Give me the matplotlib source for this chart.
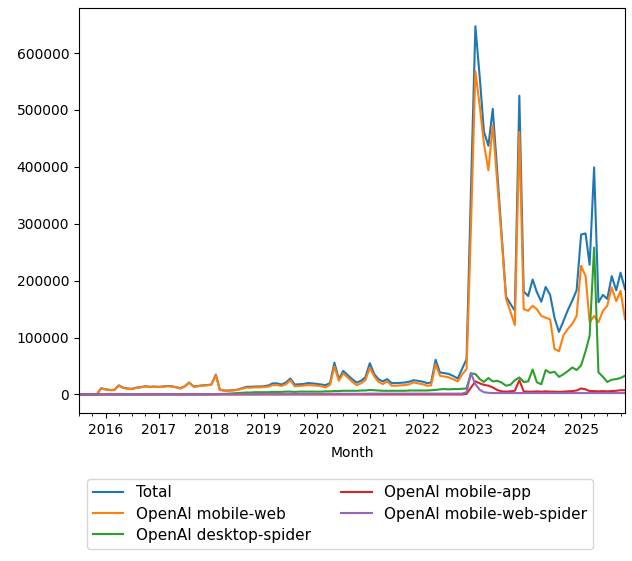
import pandas as pd
import matplotlib
matplotlib.use("Agg")
import matplotlib.pyplot as plt
import matplotlib.dates as mdates

# monthly periods, Jul 2015 .. Nov 2025
months = pd.period_range("2015-07", "2025-11", freq="M").to_timestamp()

# one line per year (2015 starts in July, 2025 ends in November)
total = [
    0, 0, 0, 0, 0, 11000,
    9000, 8000, 8000, 16000, 12000, 10500, 10000, 12000, 13000, 14500, 13500, 14000,
    13500, 14000, 15000, 14500, 13000, 11000, 14500, 21000, 14000, 15000, 16000, 16500,
    17500, 35000, 8500, 7000, 7000, 7500, 8500, 11000, 13500, 13500, 14000, 14000,
    14500, 16000, 19500, 19500, 17500, 21000, 28000, 17500, 18000, 18500, 20000, 19500,
    18500, 17500, 16500, 20000, 56000, 27000, 41500, 34000, 27000, 21000, 24000, 30000,
    55000, 35800, 27000, 23000, 27000, 20000, 20000, 20500, 21000, 22500, 25000, 24000,
    22500, 20000, 21000, 61000, 38700, 37500, 36000, 32600, 28000, 45000, 62000, 355000,
    647000, 555000, 462000, 437000, 502000, 392000, 283000, 172000, 159000, 147000, 525000, 181000,
    173000, 202000, 180000, 163000, 189000, 175000, 135000, 110000, 129000, 148000, 165000, 183000,
    281000, 283000, 228000, 399000, 162000, 175000, 168000, 208000, 183000, 214000, 185000,
]

mobile_web = [
    0, 0, 0, 0, 0, 10500,
    8700, 7600, 7500, 15500, 11600, 10000, 9500, 11500, 12500, 14000, 13000, 13500,
    13000, 13500, 14500, 14000, 12500, 10500, 14000, 20500, 13500, 14500, 15500, 16000,
    17000, 34000, 8000, 6500, 6500, 7000, 8000, 10000, 12000, 12000, 12500, 12500,
    13000, 14000, 16500, 16500, 15000, 18000, 25000, 14300, 15000, 15500, 16600, 16000,
    15500, 14500, 12500, 17000, 49000, 24000, 37000, 30000, 22400, 16600, 19500, 25000,
    47000, 31700, 22400, 18300, 23000, 15400, 15400, 16000, 16500, 18000, 21200, 19500,
    18000, 15400, 16000, 53000, 33000, 31500, 30000, 26800, 23000, 35000, 45000, 290000,
    568000, 505000, 441000, 394000, 473000, 374000, 276000, 168000, 145000, 122000, 461000, 150000,
    147000, 156000, 150000, 138000, 135000, 132000, 80000, 76000, 104000, 115000, 124000, 138000,
    226000, 208000, 127000, 138000, 127000, 147000, 156000, 188000, 164000, 182000, 132000,
]

desktop_spider = [
    0, 0, 0, 0, 0, 0,
    300, 300, 300, 300, 300, 300, 300, 300, 300, 300, 300, 300,
    400, 400, 400, 400, 400, 400, 400, 400, 400, 400, 400, 400,
    500, 500, 800, 1000, 1500, 2000, 2500, 3000, 3500, 3500, 4000, 4000,
    4000, 4000, 4500, 4500, 4500, 5000, 5000, 4500, 5000, 5000, 5000, 5000,
    5000, 5000, 5500, 5500, 6000, 6000, 6500, 6500, 6500, 6500, 7000, 7000,
    8000, 7500, 7000, 6500, 6500, 6500, 6500, 6500, 6500, 7000, 7000, 7000,
    7000, 7000, 7500, 8000, 9000, 9500, 9000, 9500, 9500, 10000, 10500, 37000,
    36000, 27000, 22000, 29000, 23000, 24000, 21000, 15400, 17200, 25000, 30000, 22000,
    23000, 44000, 21500, 18000, 43000, 38000, 40000, 31000, 35500, 41000, 47500, 43000,
    51000, 76000, 103000, 258000, 39000, 31000, 22000, 26000, 27000, 29000, 33000,
]

mobile_app = [
    0, 0, 0, 0, 0, 0,
    0, 0, 0, 0, 0, 0, 0, 0, 0, 0, 0, 0,
    0, 0, 0, 0, 0, 0, 0, 0, 0, 0, 0, 0,
    0, 0, 0, 0, 0, 0, 0, 0, 0, 0, 0, 0,
    0, 0, 0, 0, 0, 0, 0, 0, 0, 0, 0, 0,
    0, 0, 0, 0, 0, 0, 0, 0, 0, 0, 0, 0,
    0, 0, 0, 0, 0, 0, 0, 0, 0, 0, 0, 0,
    0, 0, 0, 0, 0, 0, 0, 0, 0, 0, 1000, 12000,
    23000, 19500, 17000, 15400, 12500, 7900, 5500, 5000, 5500, 6700, 25000, 5500,
    5000, 5000, 5500, 5000, 5500, 5000, 5000, 4500, 5000, 5500, 6000, 7000,
    10700, 9000, 6000, 6000, 5500, 6000, 5500, 6000, 6500, 7500, 7500,
]

mobile_web_spider = [
    0, 0, 0, 0, 0, 0,
    0, 0, 0, 0, 0, 0, 0, 0, 0, 0, 0, 0,
    0, 0, 0, 0, 0, 0, 0, 0, 0, 0, 0, 0,
    500, 500, 500, 500, 500, 500, 500, 500, 500, 500, 500, 500,
    1000, 1000, 1000, 1000, 1000, 1000, 1000, 1000, 1000, 1000, 1000, 1000,
    1200, 1200, 1200, 1200, 1200, 1200, 1200, 1200, 1200, 1200, 1200, 1200,
    1500, 1500, 1500, 1500, 1500, 1500, 1500, 1500, 1500, 1500, 1500, 1500,
    1500, 1500, 1500, 1500, 1500, 1500, 1500, 1500, 1500, 1500, 4000, 37500,
    18000, 8000, 4000, 3000, 2500, 2500, 2500, 2500, 2500, 2500, 2500, 2500,
    2500, 2500, 2500, 2500, 2500, 2500, 2500, 2500, 2500, 2500, 2500, 2500,
    2500, 2500, 2500, 2500, 2500, 2500, 2500, 2500, 2500, 2500, 2500,
]

series = {
    "Total": total,
    "OpenAI mobile-web": mobile_web,
    "OpenAI desktop-spider": desktop_spider,
    "OpenAI mobile-app": mobile_app,
    "OpenAI mobile-web-spider": mobile_web_spider,
}

fig = plt.figure(figsize=(6.32, 5.61), dpi=100)
ax = fig.add_axes([0.125, 0.264, 0.864, 0.722])

for name, vals in series.items():
    ax.plot(months, vals, label=name)

ax.set_xlim(months[0], months[-1])
ax.xaxis.set_major_locator(mdates.YearLocator())
ax.xaxis.set_major_formatter(mdates.DateFormatter("%Y"))
ax.xaxis.set_minor_locator(mdates.MonthLocator(bymonth=[1, 4, 7, 10]))
ax.set_xlabel("Month", labelpad=7)

fig.legend(loc="upper center", bbox_to_anchor=(0.5377, 0.1456), ncol=2,
           borderaxespad=0, fontsize=11, labelspacing=0.4, columnspacing=2.0)

fig.savefig("out.png", dpi=100)
